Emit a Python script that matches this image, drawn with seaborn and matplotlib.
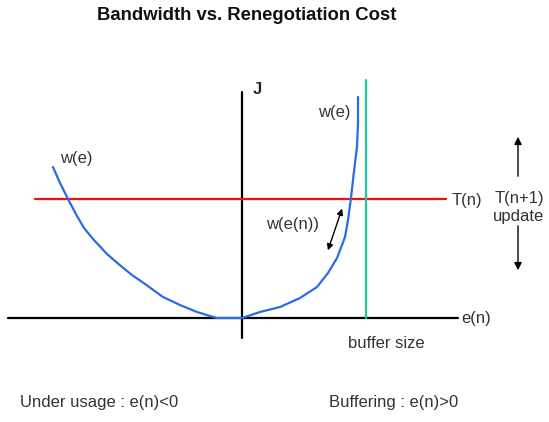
import numpy as np
import seaborn as sns
import matplotlib.pyplot as plt
import pandas as pd

# curve w(e) in pixel coordinates (x to the right, y down)
curve_x = [53, 60, 68, 77, 84, 93, 107, 122, 132, 145, 163, 180, 197, 210, 217, 242,
           260, 280, 300, 317, 328, 337, 342, 345, 348, 351, 353, 355, 357, 358, 358]
curve_y = [167, 183, 199, 216, 228, 239, 254, 267, 275, 284, 297, 305, 312, 316, 318, 318,
           312, 307, 298, 287, 273, 258, 245, 237, 220, 198, 180, 163, 147, 123, 97]

axis_origin = (242, 318)      # where e(n) axis meets J axis
e_axis_span = (8, 458)
j_axis_span = (92, 338)
threshold_y = 199             # T(n)
threshold_span = (35, 446)
buffer_x = 366                # buffer size
buffer_span = (80, 318)

sns.set_style("white")
plt.rcParams['font.family'] = ['Liberation Sans', 'DejaVu Sans']

fig = plt.figure(figsize=(5.49, 4.22), dpi=100)
ax = fig.add_axes([0, 0, 1, 1])
ax.set_xlim(0, 549)
ax.set_ylim(422, 0)
ax.axis("off")

# axes
ax.plot(e_axis_span, [axis_origin[1]] * 2, color="black", lw=1.6)
ax.plot([axis_origin[0]] * 2, j_axis_span, color="black", lw=1.6)
# threshold and buffer size
ax.plot(threshold_span, [threshold_y] * 2, color="#ee1111", lw=1.6)
ax.plot([buffer_x] * 2, buffer_span, color="#22c49c", lw=1.6)

df = pd.DataFrame({"e": curve_x, "w": curve_y})
sns.lineplot(data=df, x="e", y="w", sort=False, estimator=None, color="#2a6be6",
             lw=1.6, ax=ax)

# arrows
arr = dict(arrowstyle="-|>", color="black", lw=1.0, mutation_scale=11)
ax.annotate("", xy=(518, 134), xytext=(518, 179), arrowprops=arr)
ax.annotate("", xy=(518, 273), xytext=(518, 223), arrowprops=arr)
ax.annotate("", xy=(343, 206), xytext=(327, 253),
            arrowprops=dict(arrowstyle="<|-|>", color="black", lw=1.0, mutation_scale=9))

fs = 12
txt = "#333333"
ax.text(247, 15, "Bandwidth vs. Renegotiation Cost", fontsize=13.3, ha="center", va="center",
        fontweight="bold", color="#111111")
ax.text(253, 90, "J", fontsize=12, fontweight="bold", ha="left", va="center")
ax.text(60, 158, "w(e)", fontsize=fs, ha="left", va="center", color=txt)
ax.text(318, 112, "w(e)", fontsize=fs, ha="left", va="center", color=txt)
ax.text(266, 225, "w(e(n))", fontsize=fs, ha="left", va="center", color=txt)
ax.text(452, 200, "T(n)", fontsize=fs, ha="left", va="center", color=txt)
ax.text(519, 199, "T(n+1)", fontsize=fs, ha="center", va="center", color=txt)
ax.text(519, 217, "update", fontsize=fs, ha="center", va="center", color=txt)
ax.text(461, 318, "e(n)", fontsize=fs, ha="left", va="center", color=txt)
ax.text(348, 343, "buffer size", fontsize=fs, ha="left", va="center", color=txt)
ax.text(20, 403, "Under usage : e(n)<0", fontsize=fs, ha="left", va="center", color=txt)
ax.text(329, 403, "Buffering : e(n)>0", fontsize=fs, ha="left", va="center", color=txt)

fig.savefig("out.png", dpi=100)
